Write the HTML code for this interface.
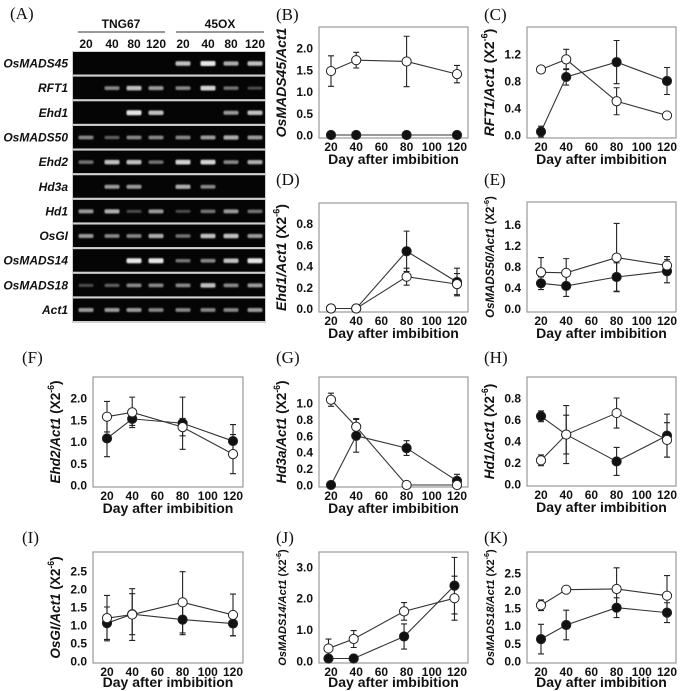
<!DOCTYPE html>
<html><head><meta charset="utf-8">
<style>
html,body{margin:0;padding:0;background:#fff;}
svg{display:block;font-family:"Liberation Sans",sans-serif;}
.tk{font-family:"Liberation Sans",sans-serif;font-size:12px;font-weight:bold;fill:#111;}
.xt{font-family:"Liberation Sans",sans-serif;font-size:14px;font-weight:bold;fill:#111;}
.pl{font-family:"Liberation Serif",serif;font-size:17px;fill:#111;}
.gl{font-family:"Liberation Sans",sans-serif;font-size:12px;font-weight:bold;font-style:italic;fill:#111;}
</style></head>
<body>
<svg id="fig" width="685" height="691" viewBox="0 0 685 691" xmlns="http://www.w3.org/2000/svg">
<defs>
<filter id="blur" x="-20%" y="-50%" width="140%" height="200%"><feGaussianBlur stdDeviation="0.8"/></filter>
</defs>
<g id="gel"></g>
<g id="charts"></g>
</svg>
<script>
// ---------- gel data ----------
const genes = ["OsMADS45","RFT1","Ehd1","OsMADS50","Ehd2","Hd3a","Hd1","OsGI","OsMADS14","OsMADS18","Act1"];
const laneLabels = ["20","40","80","120","20","40","80","120"];
const bandIntensity = [
 [0,0,0,0,.8,1,.7,.8],
 [0,.5,.8,.6,.5,.9,.4,.2],
 [0,0,1,.8,0,0,.6,.8],
 [.5,.3,.5,.5,.5,.6,.7,.6],
 [.4,.8,.8,.4,.9,.9,.5,.7],
 [0,.6,.6,0,.7,.5,0,0],
 [.6,.7,.2,.6,.2,.4,.6,.4],
 [.6,.5,.5,.7,.4,.8,.8,.6],
 [0,0,1,1,.4,.5,.8,1],
 [.2,.3,.5,.5,.5,.8,.5,.6],
 [.6,.6,.6,.5,.5,.5,.5,.6]
];

// ---------- chart data ----------
const days = [20,40,80,120];
const daysJ = [18,38,78,118];
const xTicks = [20,40,60,80,100,120];
const B_open=[1.47,1.72,1.69,1.40], B_openErr=[0.35,0.18,0.58,0.2], B_fill=[0,0,0,0], B_fillErr=[0,0,0,0];
const C_open=[0.97,1.12,0.5,0.29], C_openErr=[0.05,0.15,0.2,0.05], C_fill=[0.05,0.86,1.08,0.8], C_fillErr=[0.08,0.12,0.32,0.2];
const D_open=[0,0,0.3,0.23], D_openErr=[0,0,0.08,0.1], D_fill=[0,0,0.54,0.25], D_fillErr=[0,0,0.19,0.13];
const E_open=[0.69,0.68,0.97,0.82], E_openErr=[0.28,0.27,0.65,0.17], E_fill=[0.48,0.43,0.6,0.71], E_fillErr=[0.12,0.2,0.27,0.22];
const F_open=[1.57,1.67,1.33,0.71], F_openErr=[0.35,0.35,0.2,0.45], F_fill=[1.07,1.52,1.42,1.01], F_fillErr=[0.42,0.15,0.6,0.38];
const G_open=[1.04,0.71,0,0], G_openErr=[0.08,0.1,0,0], G_fill=[0,0.6,0.45,0.05], G_fillErr=[0,0.2,0.09,0.08];
const H_open=[0.22,0.46,0.66,0.41], H_openErr=[0.05,0.27,0.14,0.16], H_fill=[0.63,0.46,0.21,0.45], H_fillErr=[0.05,0.18,0.13,0.2];
const I_open=[1.19,1.29,1.63,1.28], I_openErr=[0.63,0.72,0.85,0.58], I_fill=[1.05,1.3,1.15,1.04], I_fillErr=[0.45,0.57,0.42,0.34];
const J_open=[0.4,0.7,1.58,2.0], J_openErr=[0.3,0.27,0.28,0.7], J_fill=[0.08,0.08,0.78,2.4], J_fillErr=[0.05,0.05,0.4,0.9];
const K_open=[1.58,2.02,2.04,1.85], K_openErr=[0.15,0.1,0.6,0.57], K_fill=[0.62,1.02,1.51,1.37], K_fillErr=[0.42,0.42,0.28,0.28];
const B_yt=[0,0.5,1,1.5,2], C_yt=[0,0.4,0.8,1.2], D_yt=[0,0.2,0.4,0.6,0.8], E_yt=[0,0.4,0.8,1.2,1.6];
const F_yt=[0,0.5,1,1.5,2], G_yt=[0,0.2,0.4,0.6,0.8,1.0], H_yt=[0,0.2,0.4,0.6,0.8];
const I_yt=[0,0.5,1,1.5,2,2.5], J_yt=[0,1,2,3], K_yt=[0,0.5,1,1.5,2,2.5];

const NS="http://www.w3.org/2000/svg";
function mk(tag, attrs, parent){const e=document.createElementNS(NS,tag);for(const k in attrs)e.setAttribute(k,attrs[k]);parent.appendChild(e);return e;}

// ---------- gel ----------
const gel=document.getElementById('gel');
let t=mk('text',{x:10,y:19,class:'pl'},gel);t.textContent='(A)';


t=mk('text',{x:121,y:28,class:'tk','text-anchor':'middle'},gel);t.textContent='TNG67';


t=mk('text',{x:220,y:28,class:'tk','text-anchor':'middle'},gel);t.textContent='45OX';


mk('line',{x1:78,x2:165,y1:32,y2:32,stroke:'#333','stroke-width':1},gel);
mk('line',{x1:176,x2:264,y1:32,y2:32,stroke:'#333','stroke-width':1},gel);
const laneX=[86,112,134,156,183,208,231,255];
laneLabels.forEach((l,i)=>{const e=mk('text',{x:laneX[i],y:48,class:'tk','text-anchor':'middle'},gel);e.textContent=l;

});
mk('rect',{x:72,y:51,width:194,height:272,fill:'#d0d0d0'},gel);
genes.forEach((g,r)=>{
 const y=52+r*24.65;
 const s=mk('rect',{x:73,y:y,width:192,height:22.5,fill:'#050505'},gel);
 
 
 const lab=mk('text',{x:68,y:y+15.5,class:'gl','text-anchor':'end'},gel);lab.textContent=g;
 
 
 bandIntensity[r].forEach((v,i)=>{
  if(v<=0)return;
  const c=Math.round(40+190*v);
  const h=2.5+v*2.5;
  const b=mk('rect',{x:laneX[i]-7.5,y:y+11.5-h/2,width:15,height:h,rx:1.5,fill:`rgb(${c},${c},${c})`,filter:'url(#blur)'},gel);
  
  
 });
});

// ---------- charts ----------
const charts=document.getElementById('charts');
function panel(p){
 const g=mk('g',{},charts);
 
 
 const xs=v=>p.x20+(v-20)*(p.x120-p.x20)/100;
 const ys=v=>p.y0-v*p.yu;
 let e=mk('text',{x:p.lx,y:p.ly,class:'pl'},g);e.textContent='('+p.id+')';
 
 
 e=mk('rect',{x:p.L,y:p.T,width:p.R-p.L,height:p.B-p.T,fill:'none',stroke:'#9a9a9a','stroke-width':1.2},g);
 
 
 p.yt.forEach(v=>{const tt=mk('text',{x:p.L-6,y:ys(v)+4.5,class:'tk','text-anchor':'end'},g);tt.textContent=v.toFixed(1);
  
  });
 xTicks.forEach(v=>{const tt=mk('text',{x:xs(v),y:p.B+13,class:'tk','text-anchor':'middle'},g);tt.textContent=v;
  
  });
 e=mk('text',{x:(p.L+p.R)/2,y:p.B+p.xo,class:'xt','text-anchor':'middle'},g);e.textContent='Day after imbibition';
 
 
 const cy=(p.T+p.B)/2, tx=p.L-33;
 const yt=mk('text',{x:tx,y:cy,transform:`rotate(-90 ${tx} ${cy})`,'text-anchor':'middle','font-size':p.fs,'font-weight':'bold',fill:'#111'},g);
 
 
 const t1=mk('tspan',{'font-style':'italic'},yt);t1.textContent=p.title;
 if(p.unit){
  const t2=mk('tspan',{},yt);t2.textContent=' (X2';
  const t3=mk('tspan',{'font-size':p.fs*0.65,dy:-p.fs*0.45},yt);t3.textContent='-6';
  const t4=mk('tspan',{dy:p.fs*0.45},yt);t4.textContent=')';
 }
 const xv=p.xv||days;
 [[p.fill,'filled'],[p.open,'open']].forEach(([vals,nm])=>{
  const pts=vals.map((v,i)=>xs(xv[i])+','+ys(v)).join(' ');
  const ln=mk('polyline',{points:pts,fill:'none',stroke:'#333','stroke-width':1.1},g);
  
  
 });
 [[p.fill,p.fillErr,'filled'],[p.open,p.openErr,'open']].forEach(([vals,errs,nm])=>{
  vals.forEach((v,i)=>{
   const x=xs(xv[i]);
   if(errs[i]>0){
    const eb=mk('path',{d:`M${x},${ys(v-errs[i])}V${ys(v+errs[i])}M${x-3},${ys(v+errs[i])}h6M${x-3},${ys(v-errs[i])}h6`,stroke:'#222','stroke-width':1.1,fill:'none'},g);
    
    
   }
  });
 });
 [[p.fill,'#111','filled'],[p.open,'#fff','open']].forEach(([vals,fc,nm])=>{
  vals.forEach((v,i)=>{
   const c=mk('circle',{cx:xs(xv[i]),cy:ys(v),r:4.6,fill:fc,stroke:'#222','stroke-width':1},g);
   
   
  });
 });
}
const colB={L:319,R:468,x20:331,x120:457}, colC={L:527,R:676,x20:541,x120:667}, colF={L:93,R:243,x20:107,x120:233};
panel({id:'B',...colB,T:27,B:138,y0:135,yu:43.5,xo:26,lx:276,ly:20,yt:B_yt,title:'OsMADS45/Act1',unit:false,fs:14,open:B_open,openErr:B_openErr,fill:B_fill,fillErr:B_fillErr});
panel({id:'C',...colC,T:27,B:138,y0:135,yu:67.5,xo:26,lx:484,ly:20,yt:C_yt,title:'RFT1/Act1',unit:true,fs:14,open:C_open,openErr:C_openErr,fill:C_fill,fillErr:C_fillErr});
panel({id:'D',...colB,T:203,B:312,y0:308.5,yu:106,xo:26,lx:276,ly:185,yt:D_yt,title:'Ehd1/Act1',unit:true,fs:14,open:D_open,openErr:D_openErr,fill:D_fill,fillErr:D_fillErr});
panel({id:'E',...colC,T:202,B:312,y0:308.5,yu:52.5,xo:26,lx:484,ly:185,yt:E_yt,title:'OsMADS50/Act1',unit:true,fs:11.5,open:E_open,openErr:E_openErr,fill:E_fill,fillErr:E_fillErr});
panel({id:'F',...colF,T:377,B:487,y0:485,yu:43.5,xo:26,lx:22,ly:363,yt:F_yt,title:'Ehd2/Act1',unit:true,fs:13.5,open:F_open,openErr:F_openErr,fill:F_fill,fillErr:F_fillErr});
panel({id:'G',...colB,T:377,B:487,y0:485,yu:82,xo:26,lx:276,ly:363,yt:G_yt,title:'Hd3a/Act1',unit:true,fs:13.5,open:G_open,openErr:G_openErr,fill:G_fill,fillErr:G_fillErr});
panel({id:'H',...colC,T:377,B:486,y0:484,yu:107.5,xo:26,lx:484,ly:363,yt:H_yt,title:'Hd1/Act1',unit:true,fs:13.5,open:H_open,openErr:H_openErr,fill:H_fill,fillErr:H_fillErr});
panel({id:'I',...colF,T:552,B:663,y0:661,yu:36,xo:24,lx:22,ly:543,yt:I_yt,title:'OsGI/Act1',unit:true,fs:13.5,open:I_open,openErr:I_openErr,fill:I_fill,fillErr:I_fillErr});
panel({id:'J',...colB,T:552,B:663,y0:661,yu:31.4,xo:24,lx:276,ly:543,yt:J_yt,title:'OsMADS14/Act1',unit:true,fs:11,xv:daysJ,open:J_open,openErr:J_openErr,fill:J_fill,fillErr:J_fillErr});
panel({id:'K',...colC,T:552,B:663,y0:661,yu:35.3,xo:24,lx:484,ly:543,yt:K_yt,title:'OsMADS18/Act1',unit:true,fs:11,open:K_open,openErr:K_openErr,fill:K_fill,fillErr:K_fillErr});
</script>
</body></html>
